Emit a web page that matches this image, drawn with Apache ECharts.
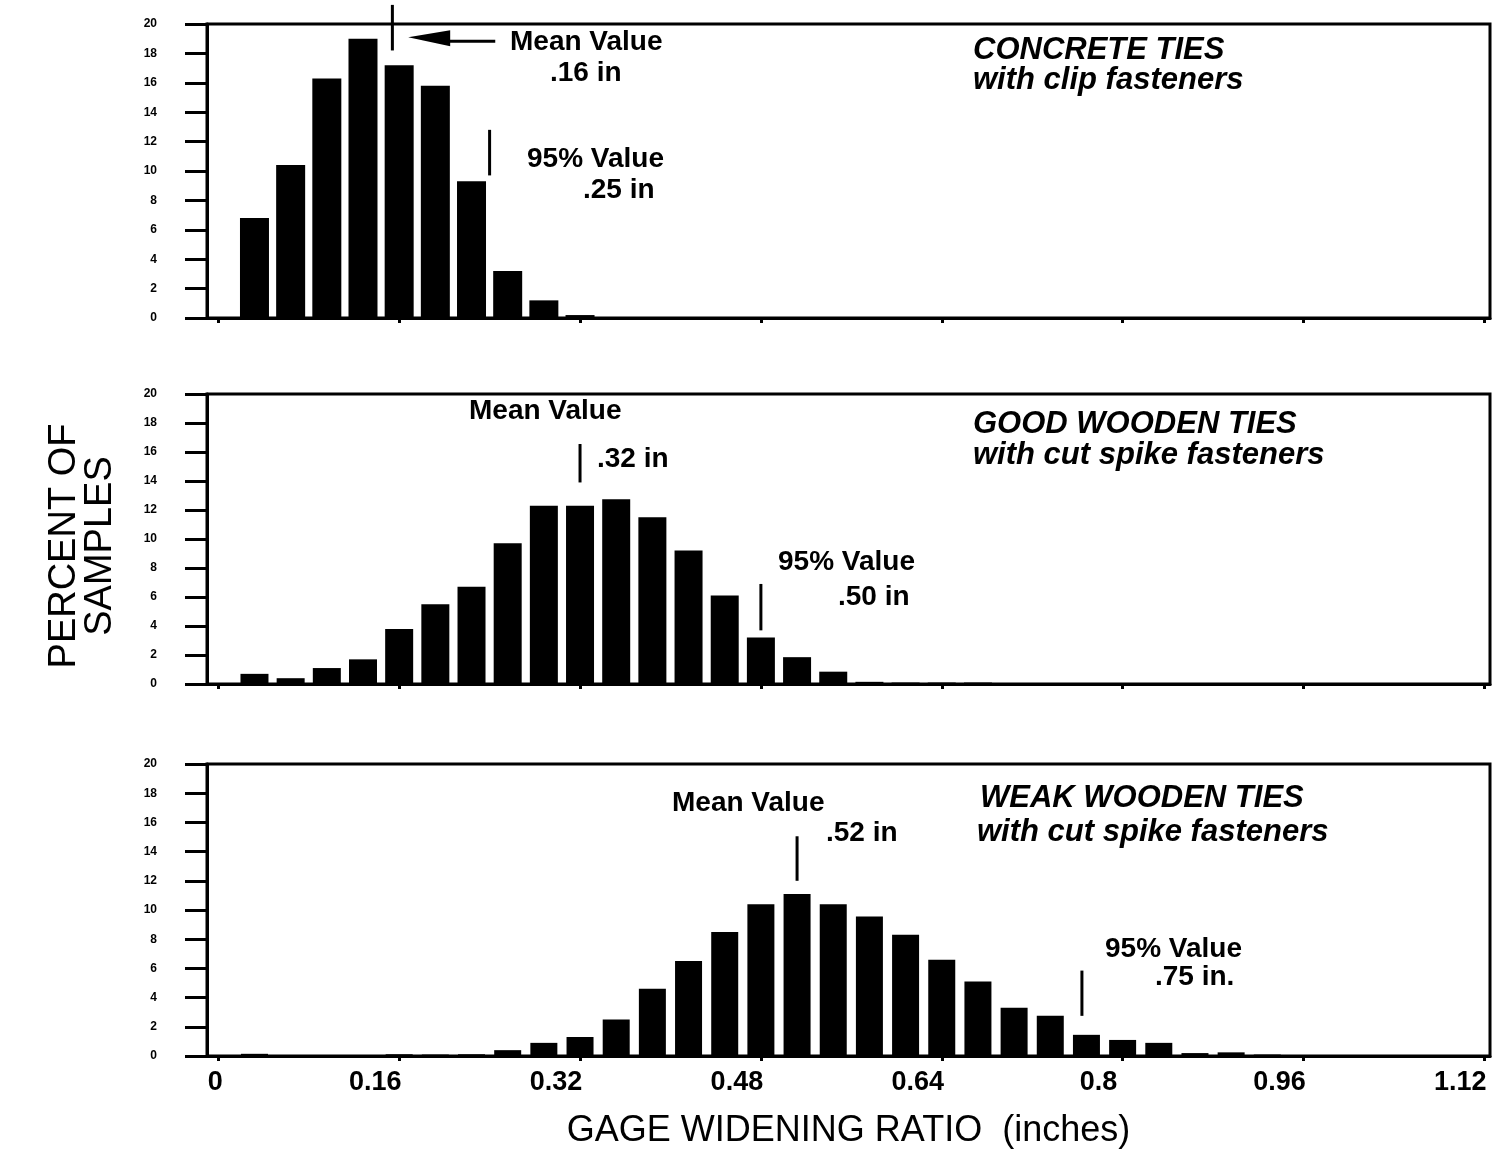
<!DOCTYPE html>
<html>
<head>
<meta charset="utf-8">
<script src="https://cdn.jsdelivr.net/npm/echarts@6/dist/echarts.min.js"></script>
<style>
  html, body { margin: 0; padding: 0; background: #fff; }
  #chart { width: 1494px; height: 1152px; }
</style>
</head>
<body>
<div id="chart"></div>
<script>
// ---------- data ----------
const binX = [0.032, 0.064, 0.096, 0.128, 0.160, 0.192, 0.224, 0.256, 0.288, 0.320,
              0.352, 0.384, 0.416, 0.448, 0.480, 0.512, 0.544, 0.576, 0.608, 0.640,
              0.672, 0.704, 0.736, 0.768, 0.800, 0.832, 0.864, 0.896, 0.928, 0.960,
              0.992, 1.024, 1.056, 1.088];
const concreteTies = [6.8, 10.4, 16.3, 19.0, 17.2, 15.8, 9.3, 3.2, 1.2, 0.2];
const goodWoodenTies = [0.7, 0.4, 1.1, 1.7, 3.8, 5.5, 6.7, 9.7, 12.3, 12.3,
                        12.75, 11.5, 9.2, 6.1, 3.2, 1.85, 0.85, 0.15, 0.1, 0.1, 0.1];
const weakWoodenTies = [0.15, 0.05, 0.05, 0.05, 0.12, 0.1, 0.12, 0.4, 0.9, 1.3,
                        2.5, 4.6, 6.5, 8.5, 10.4, 11.1, 10.4, 9.55, 8.3, 6.6,
                        5.1, 3.3, 2.75, 1.45, 1.1, 0.9, 0.2, 0.25, 0.1, 0.07,
                        0.07, 0.07, 0.07, 0.07];
const xTickValues = [0, 0.16, 0.32, 0.48, 0.64, 0.80, 0.96, 1.12];
const xTickLabels = ['0', '0.16', '0.32', '0.48', '0.64', '0.8', '0.96', '1.12'];
// marker lines: [x, yFrom, yTo]
const concreteMarkers = [[0.154, 18.2, 21.3], [0.240, 9.7, 12.8]];
const goodMarkers = [[0.320, 13.9, 16.55], [0.480, 3.7, 6.9]];
const weakMarkers = [[0.512, 12.0, 15.05], [0.764, 2.75, 5.85]];
// arrow: [xTip, xEnd, y]
const concreteArrow = [[0.168, 0.245, 18.9]];

// ---------- chart ----------
const FONT = '"Liberation Sans", Arial, sans-serif';
const chart = echarts.init(document.getElementById('chart'), null, { renderer: 'canvas' });

const grids = [
  { left: 207, right: 4, top: 24, height: 294 },
  { left: 207, right: 4, top: 394, height: 290 },
  { left: 207, right: 4, top: 764, height: 292 }
];

function xAxisFor(i) {
  const last = i === 2;
  return {
    type: 'value', gridIndex: i, min: -0.01, max: 1.125,
    axisLine: { show: true, onZero: false, lineStyle: { color: '#000', width: 3 } },
    axisTick: { show: true, customValues: xTickValues, length: 5, inside: false,
                lineStyle: { color: '#000', width: 3 } },
    splitLine: { show: false },
    axisLabel: {
      show: last, customValues: xTickValues, margin: 13,
      formatter: function (v) {
        const idx = xTickValues.findIndex(t => Math.abs(t - v) < 1e-6);
        const s = idx >= 0 ? xTickLabels[idx] : '';
        return v === 0 ? '{z|' + s + '}' : '{n|' + s + '}';
      },
      rich: {
        z: { fontFamily: FONT, fontSize: 27, fontWeight: 'bold', color: '#000', padding: [0, 6, 0, 0] },
        n: { fontFamily: FONT, fontSize: 27, fontWeight: 'bold', color: '#000', padding: [0, 48, 0, 0] }
      }
    },
    name: last ? 'GAGE WIDENING RATIO  (inches)' : '',
    nameLocation: 'middle', nameGap: 57,
    nameTextStyle: { fontFamily: FONT, fontSize: 36, color: '#000' }
  };
}
function yAxisFor(i) {
  return {
    type: 'value', gridIndex: i, min: 0, max: 20, interval: 2,
    axisLine: { show: true, onZero: false, lineStyle: { color: '#000', width: 3 } },
    axisTick: { show: true, length: 22, lineStyle: { color: '#000', width: 3 } },
    splitLine: { show: false },
    axisLabel: { margin: 50, fontFamily: FONT, fontSize: 12, fontWeight: 'bold', color: '#000' }
  };
}

function barSeries(i, vals, bw) {
  return {
    type: 'bar', xAxisIndex: i, yAxisIndex: i, barWidth: bw,
    itemStyle: { color: '#000' },
    data: vals.map((v, k) => [binX[k], v]),
    silent: true
  };
}
function markerSeries(i, rows) {
  return {
    type: 'custom', xAxisIndex: i, yAxisIndex: i, clip: false, silent: true,
    encode: { x: 0, y: [1, 2] },
    data: rows,
    renderItem: function (params, api) {
      const p1 = api.coord([api.value(0), api.value(1)]);
      const p2 = api.coord([api.value(0), api.value(2)]);
      return { type: 'line', shape: { x1: p1[0], y1: p1[1], x2: p2[0], y2: p2[1] },
               style: { stroke: '#000', lineWidth: 3 } };
    }
  };
}
function arrowSeries(i, rows) {
  return {
    type: 'custom', xAxisIndex: i, yAxisIndex: i, clip: false, silent: true,
    encode: { x: [0, 1], y: 2 },
    data: rows,
    renderItem: function (params, api) {
      const tip = api.coord([api.value(0), api.value(2)]);
      const end = api.coord([api.value(1), api.value(2)]);
      return { type: 'group', children: [
        { type: 'polygon', shape: { points: [[tip[0], tip[1] - 3], [tip[0] + 42, tip[1] - 10], [tip[0] + 42, tip[1] + 6]] },
          style: { fill: '#000' } },
        { type: 'line', shape: { x1: tip[0] + 40, y1: tip[1] + 1, x2: end[0], y2: end[1] + 1 },
          style: { stroke: '#000', lineWidth: 3 } }
      ]};
    }
  };
}

function txt(text, x, y, size, italic) {
  return { type: 'text', x: x, y: y, silent: true,
    style: { text: text, fill: '#000', font: (italic ? 'italic ' : '') + 'bold ' + size + 'px ' + FONT,
             textAlign: 'left', textVerticalAlign: 'middle' } };
}

const option = {
  animation: false,
  backgroundColor: '#fff',
  grid: grids.map(g => Object.assign({ show: true, borderColor: '#000', borderWidth: 3, backgroundColor: 'transparent' }, g)),
  xAxis: [xAxisFor(0), xAxisFor(1), xAxisFor(2)],
  yAxis: [yAxisFor(0), yAxisFor(1), yAxisFor(2)],
  series: [
    barSeries(0, concreteTies, 29),
    barSeries(1, goodWoodenTies, 28),
    barSeries(2, weakWoodenTies, 27),
    markerSeries(0, concreteMarkers),
    markerSeries(1, goodMarkers),
    markerSeries(2, weakMarkers),
    arrowSeries(0, concreteArrow)
  ],
  graphic: [
    txt('Mean Value', 510, 42, 28, false),
    txt('.16 in', 550, 73, 28, false),
    txt('95% Value', 527, 159, 28, false),
    txt('.25 in', 583, 190, 28, false),
    txt('CONCRETE TIES', 973, 50, 31, true),
    txt('with clip fasteners', 973, 80, 31, true),

    txt('Mean Value', 469, 411, 28, false),
    txt('.32 in', 597, 459, 28, false),
    txt('95% Value', 778, 562, 28, false),
    txt('.50 in', 838, 597, 28, false),
    txt('GOOD WOODEN TIES', 973, 424, 31, true),
    txt('with cut spike fasteners', 973, 455, 31, true),

    txt('Mean Value', 672, 803, 28, false),
    txt('.52 in', 826, 833, 28, false),
    txt('95% Value', 1105, 949, 28, false),
    txt('.75 in.', 1155, 977, 28, false),
    txt('WEAK WOODEN TIES', 980, 798, 31, true),
    txt('with cut spike fasteners', 977, 832, 31, true),

    { type: 'text', x: 83, y: 546, rotation: Math.PI / 2, silent: true,
      style: { text: 'PERCENT OF\nSAMPLES', fill: '#000', font: '38px ' + FONT,
               textAlign: 'center', textVerticalAlign: 'middle', lineHeight: 36 } }
  ]
};
chart.setOption(option);
</script>
</body>
</html>
